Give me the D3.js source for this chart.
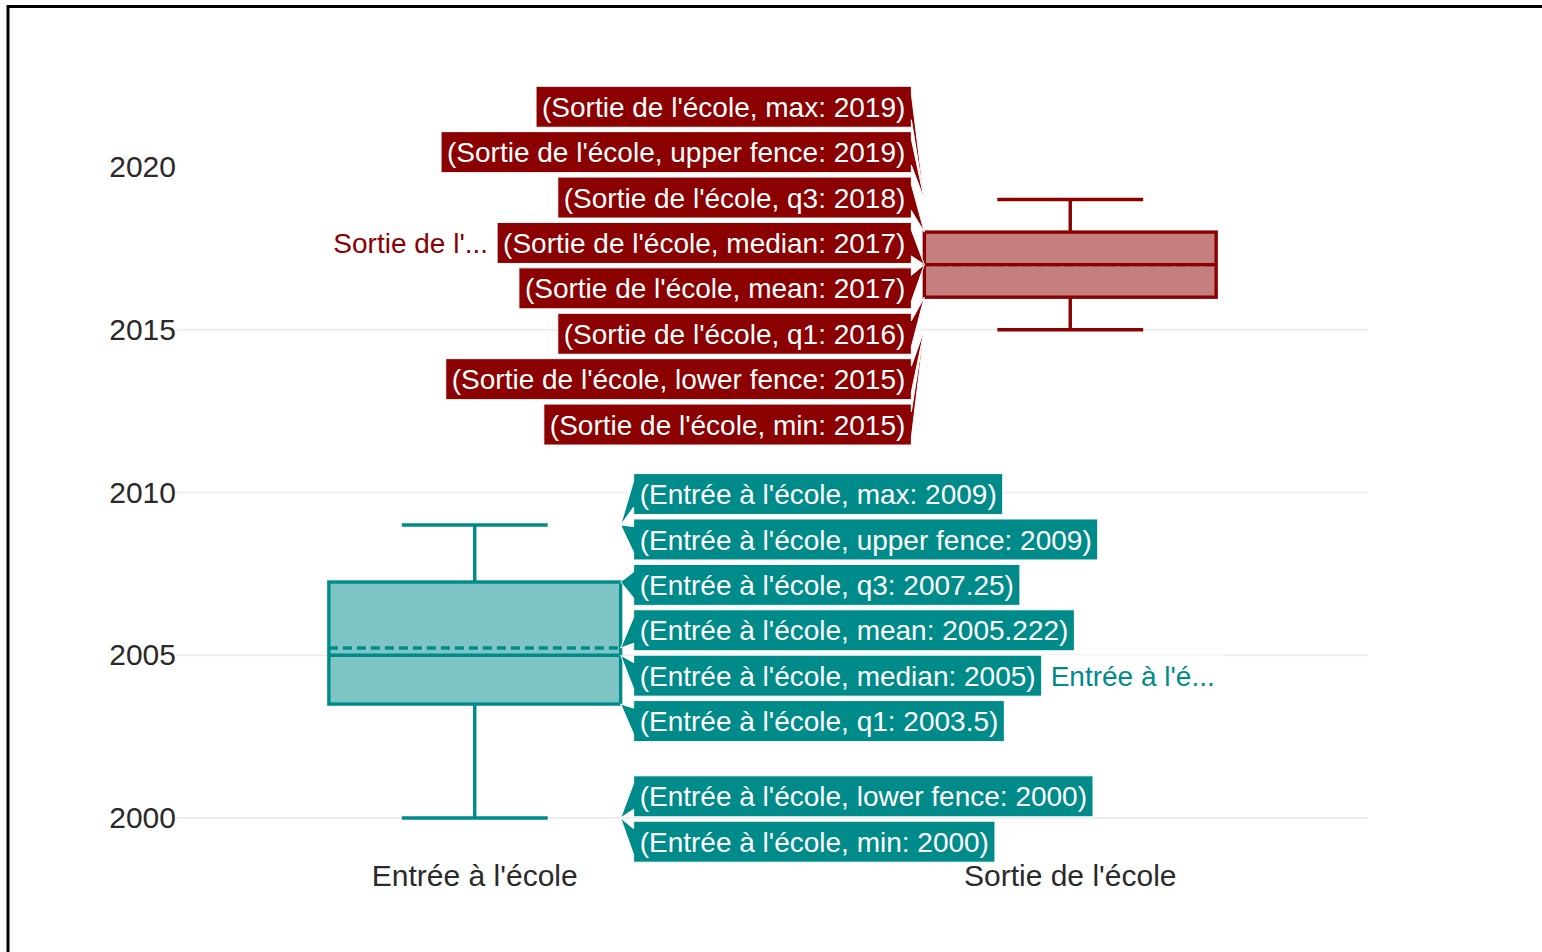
<!DOCTYPE html>
<html>
<head>
<meta charset="utf-8">
<script src="https://cdnjs.cloudflare.com/ajax/libs/d3/7.8.5/d3.min.js"></script>
<style>
  html, body { margin: 0; padding: 0; background: #fff; }
  svg { display: block; font-family: "Liberation Sans", Arial, sans-serif; }
</style>
</head>
<body>
<svg id="chart" width="1542" height="952"></svg>
<script>
// box statistics, one value per category
const categories = ["Entrée à l'école", "Sortie de l'école"];
const minV = [2000, 2015];
const lowerFence = [2000, 2015];
const q1 = [2003.5, 2016];
const median = [2005, 2017];
const mean = [2005.222, 2017];
const q3 = [2007.25, 2018];
const upperFence = [2009, 2019];
const maxV = [2009, 2019];
const colors = ['#008b8b', '#8b0000'];
const yTicks = [2000, 2005, 2010, 2015, 2020];

// order used for the hover labels
const statNames = ['max', 'upper fence', 'q3', 'median', 'mean', 'q1', 'lower fence', 'min'];
const statValues = [maxV, upperFence, q3, median, mean, q1, lowerFence, minV];

const svg = d3.select('#chart');

const x = d3.scaleBand().domain(categories).range([177, 1368]);
const y = d3.scaleLinear().domain([2000, 2020]).range([818, 167]);

// frame of the screenshot (left + top)
svg.append('path')
  .attr('d', 'M8,952V6.5H1542')
  .attr('fill', 'none')
  .attr('stroke', '#000')
  .attr('stroke-width', 3);

// grid
svg.append('g')
  .selectAll('line')
  .data(yTicks.filter((t) => t !== y.domain()[1]))
  .join('line')
  .attr('x1', x.range()[0])
  .attr('x2', x.range()[1])
  .attr('y1', (d) => y(d))
  .attr('y2', (d) => y(d))
  .attr('stroke', '#eee')
  .attr('stroke-width', 2);

// y axis labels
const yAxis = svg.append('g')
  .attr('transform', 'translate(176,0)')
  .call(d3.axisLeft(y).tickValues(yTicks).tickFormat(d3.format('d')).tickSize(0).tickPadding(0));
yAxis.select('.domain').remove();
yAxis.selectAll('text')
  .attr('font-size', 30)
  .attr('font-family', '"Liberation Sans", Arial, sans-serif')
  .attr('fill', '#2a2a2a');

// x axis labels
const xAxis = svg.append('g')
  .attr('transform', 'translate(0,865)')
  .call(d3.axisBottom(x).tickSize(0).tickPadding(0));
xAxis.select('.domain').remove();
xAxis.selectAll('text')
  .attr('font-size', 30)
  .attr('font-family', '"Liberation Sans", Arial, sans-serif')
  .attr('fill', '#2a2a2a');

// boxes
const boxW = x.bandwidth() * 0.49;
const lw = 3.4;

categories.forEach(function (cat, i) {
  const cx = x(cat) + x.bandwidth() / 2;
  const c = colors[i];
  const g = svg.append('g');

  // whiskers
  g.append('line')
    .attr('x1', cx).attr('x2', cx)
    .attr('y1', y(q3[i])).attr('y2', y(upperFence[i]))
    .attr('stroke', c).attr('stroke-width', lw);
  g.append('line')
    .attr('x1', cx).attr('x2', cx)
    .attr('y1', y(q1[i])).attr('y2', y(lowerFence[i]))
    .attr('stroke', c).attr('stroke-width', lw);
  [upperFence[i], lowerFence[i]].forEach(function (v) {
    g.append('line')
      .attr('x1', cx - boxW / 4).attr('x2', cx + boxW / 4)
      .attr('y1', y(v)).attr('y2', y(v))
      .attr('stroke', c).attr('stroke-width', lw);
  });

  // box
  g.append('rect')
    .attr('x', cx - boxW / 2)
    .attr('y', y(q3[i]))
    .attr('width', boxW)
    .attr('height', y(q1[i]) - y(q3[i]))
    .attr('fill', c)
    .attr('fill-opacity', 0.5)
    .attr('stroke', c)
    .attr('stroke-width', lw);

  // median
  g.append('line')
    .attr('x1', cx - boxW / 2).attr('x2', cx + boxW / 2)
    .attr('y1', y(median[i])).attr('y2', y(median[i]))
    .attr('stroke', c).attr('stroke-width', lw);

  // mean (dashed)
  g.append('line')
    .attr('x1', cx - boxW / 2).attr('x2', cx + boxW / 2)
    .attr('y1', y(mean[i])).attr('y2', y(mean[i]))
    .attr('stroke', c).attr('stroke-width', lw)
    .attr('stroke-dasharray', '9,5');
});

// hover labels
const labelH = 41;
const pitch = 45.4;
const arrow = 13;
const pad = 6;
const fontSize = 28;

// stack labels: merge overlapping groups and centre each on its targets
function layoutLabels(items) {
  let groups = items.map((d) => ({ items: [d] }));
  function place(gr) {
    const m = d3.mean(gr.items, (d) => d.target);
    const n = gr.items.length;
    gr.items.forEach(function (d, k) {
      d.cy = m - ((n - 1) * pitch) / 2 + k * pitch + 1;
    });
  }
  groups.forEach(place);
  let merged = true;
  while (merged) {
    merged = false;
    for (let k = 0; k < groups.length - 1; k++) {
      const a = groups[k], b = groups[k + 1];
      const aBottom = a.items[a.items.length - 1].cy;
      const bTop = b.items[0].cy;
      if (bTop - aBottom < pitch) {
        a.items = a.items.concat(b.items);
        groups.splice(k + 1, 1);
        place(a);
        merged = true;
        break;
      }
    }
  }
}

categories.forEach(function (cat, i) {
  const cx = x(cat) + x.bandwidth() / 2;
  const c = colors[i];
  const side = i === 0 ? 1 : -1; // 1: labels right of the box, -1: left
  const px = cx + (side * boxW) / 2;

  const items = statNames.map((s, k) => ({
    name: s,
    value: statValues[k][i],
    target: y(statValues[k][i]),
    order: k,
  }));
  items.sort((a, b) => a.target - b.target || a.order - b.order);
  layoutLabels(items);

  const g = svg.append('g');

  items.forEach(function (d) {
    const lg = g.append('g');
    const path = lg.append('path');
    const txt = lg.append('text')
      .attr('font-size', fontSize)
      .attr('fill', '#fff')
      .attr('y', d.cy + fontSize * 0.36)
      .text('(' + cat + ', ' + d.name + ': ' + d.value + ')');
    const tw = txt.node().getComputedTextLength();
    const bw = tw + 2 * pad;
    const edge = px + side * arrow;
    const far = edge + side * bw;
    const top = d.cy - labelH / 2;
    const bot = d.cy + labelH / 2;
    const ah = Math.min(arrow, labelH / 2);

    path
      .attr('d',
        'M' + px + ',' + d.target +
        'L' + edge + ',' + (d.cy + ah) +
        'V' + bot + 'H' + far + 'V' + top + 'H' + edge +
        'V' + (d.cy - ah) + 'Z')
      .attr('fill', c)
      .attr('stroke', '#fff')
      .attr('stroke-width', 1);

    txt.attr('x', side === 1 ? edge + pad : far + pad);

    // trace name beside the median label
    if (d.name === 'median') {
      const short = cat.slice(0, 12) + '...';
      const nt = lg.append('text')
        .attr('font-size', fontSize)
        .attr('fill', c)
        .attr('y', d.cy + fontSize * 0.36)
        .text(short);
      const nw = nt.node().getComputedTextLength();
      const nx = side === 1 ? far + 9 : far - 9 - nw;
      lg.insert('rect', 'text:last-of-type')
        .attr('x', side === 1 ? far + 1 : nx - 8)
        .attr('y', top)
        .attr('width', nw + 16)
        .attr('height', labelH)
        .attr('fill', '#fff');
      nt.raise().attr('x', nx);
    }
  });
});
</script>
</body>
</html>
